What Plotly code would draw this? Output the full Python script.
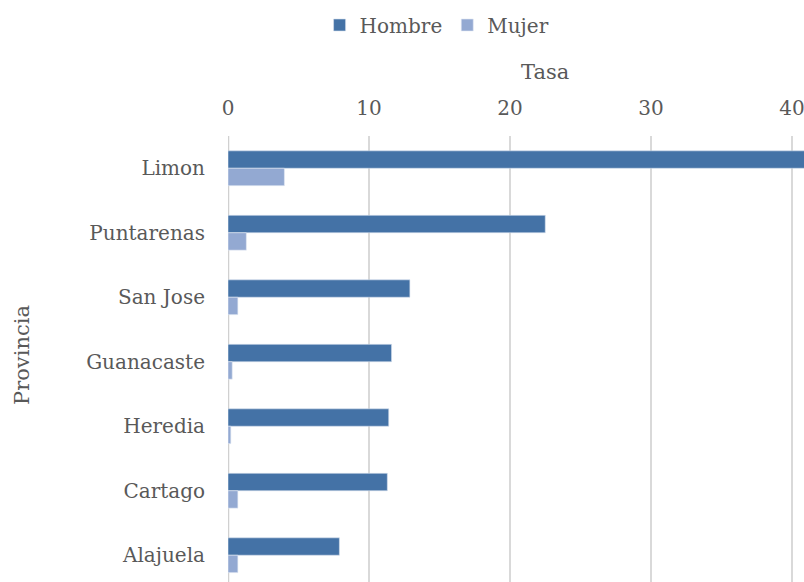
import plotly.graph_objects as go

provincias = ["Limon", "Puntarenas", "San Jose", "Guanacaste", "Heredia", "Cartago", "Alajuela"]
hombre = [42.0, 22.5, 12.9, 11.6, 11.4, 11.3, 7.9]
mujer = [4.0, 1.3, 0.7, 0.3, 0.2, 0.7, 0.7]
ticks = [0, 10, 20, 30, 40]

font_fam = "DejaVu Serif, Liberation Serif, serif"
grey = "#595959"

fig = go.Figure()
fig.add_bar(y=provincias, x=hombre, name="Hombre", orientation="h",
            marker=dict(color="#4472A6", line=dict(color="#D6E0EE", width=0.6)))
fig.add_bar(y=provincias, x=mujer, name="Mujer", orientation="h",
            marker=dict(color="#93A9D2", line=dict(color="#E3E9F3", width=0.6)))

fig.update_layout(
    width=804, height=582,
    margin=dict(l=228, r=0, t=136, b=0),
    plot_bgcolor="white", paper_bgcolor="white",
    font=dict(family=font_fam, size=20, color=grey),
    barmode="group", bargap=0.46, bargroupgap=0,
    legend=dict(orientation="h", x=0.363, xanchor="center", y=(136 - 25) / 446 + 1,
                yanchor="middle", font=dict(size=20, color=grey), traceorder="normal"),
    xaxis=dict(side="top", range=[0, 40.85], tickvals=ticks, showgrid=True,
               gridcolor="#D9D9D9", gridwidth=1.5, zeroline=False,
               showline=False, ticks="", ticklabelstandoff=16,
               ticklabeloverflow="allow"),
    yaxis=dict(range=[6.415, -0.5], showgrid=False, zeroline=False, showline=False,
               ticks="", ticklabelstandoff=22),
)
fig.add_vline(x=0, line=dict(color="#D0D0D0", width=2.5), layer="below")

fig.add_annotation(text="Tasa", xref="paper", yref="paper", x=(545 - 228) / 576,
                   y=(136 - 72) / 446 + 1, yanchor="middle", showarrow=False,
                   font=dict(size=21, color=grey))
fig.add_annotation(text="Provincia", xref="paper", yref="paper", x=-(228 - 22) / 576,
                   y=(582 - 355) / 446, textangle=-90, showarrow=False,
                   xanchor="center", yanchor="middle", font=dict(size=21, color=grey))

fig.write_html("out.html", config={"displayModeBar": False},
               post_script="document.body.style.margin='0';document.body.style.overflow='hidden';")
